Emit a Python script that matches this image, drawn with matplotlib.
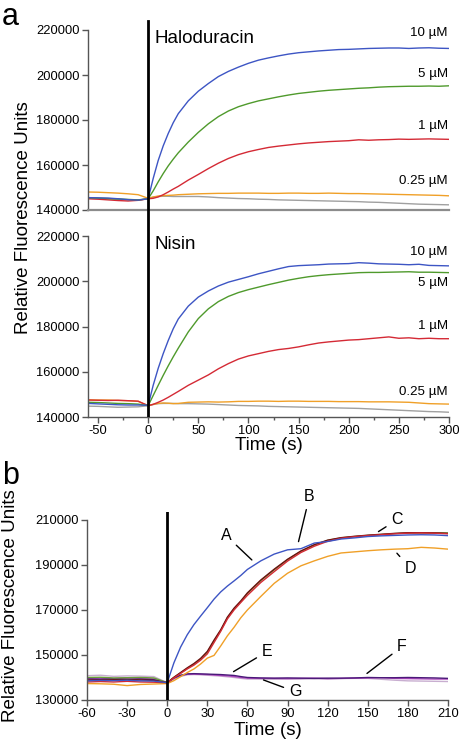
import matplotlib
matplotlib.use("Agg")
import matplotlib.pyplot as plt
from matplotlib.ticker import MultipleLocator, FixedLocator

plt.rcParams['font.family'] = ['Liberation Sans', 'DejaVu Sans']
plt.rcParams['axes.unicode_minus'] = False

# ---------------- Panel a data ----------------
t_a = [-60, -50, -40, -30, -20, -10, 0, 5, 10, 15, 20, 25, 30,
       40, 50, 60, 70, 80, 90, 100, 110, 120, 130, 140, 150, 160, 170, 180,
       190, 200, 210, 220, 230, 240, 250, 260, 270, 280, 290, 300]

halo_10 = [145500, 145400, 145300, 145000, 144600, 144400, 145000, 154000, 162000, 168500, 174000, 178800, 182800,
           188500, 192800, 196200, 199300, 201600, 203500, 205200, 206600, 207600, 208500, 209300, 209900, 210300, 210700, 211000,
           211300, 211400, 211600, 211800, 211900, 212000, 212000, 211800, 212000, 212100, 211900, 211800]
halo_5 = [145500, 145300, 145100, 144900, 144700, 144500, 145000, 148500, 152500, 156200, 159600, 162600, 165400,
          170200, 174500, 178300, 181500, 184000, 185900, 187300, 188500, 189400, 190300, 191100, 191800, 192300, 192800, 193200,
          193500, 193800, 194100, 194300, 194600, 194800, 194900, 195000, 195000, 195100, 195000, 195200]
halo_1 = [145000, 144800, 144500, 144200, 144000, 144300, 145000, 145200, 145800, 146800, 148000, 149300, 150500,
          153300, 155800, 158400, 160800, 162900, 164600, 165900, 166900, 167800, 168400, 168900, 169400, 169800, 170100, 170400,
          170600, 170800, 171200, 171000, 171200, 171300, 171500, 171400, 171500, 171600, 171500, 171400]
halo_025 = [148000, 147900, 147700, 147500, 147200, 146800, 145200, 145800, 146200, 146400, 146500, 146600, 146800,
            147000, 147200, 147300, 147400, 147400, 147500, 147500, 147500, 147400, 147400, 147500, 147500, 147400, 147400, 147500,
            147400, 147300, 147300, 147200, 147100, 147000, 146900, 146800, 146700, 146600, 146500, 146300]
halo_ctrl = [145200, 145100, 144900, 144700, 144500, 144400, 145000, 145700, 146000, 146100, 146100, 146000, 146000,
             146000, 146000, 145800, 145500, 145300, 145100, 145000, 144800, 144700, 144500, 144400, 144300, 144200, 144100, 144000,
             143900, 143800, 143700, 143500, 143400, 143200, 143000, 142800, 142600, 142500, 142400, 142300]

nis_10 = [146000, 145800, 145600, 145400, 145300, 145300, 145200, 154000, 161500, 168000, 173800, 179000, 183300,
          189000, 193000, 195700, 197900, 199600, 200800, 202000, 203300, 204400, 205500, 206500, 206900, 207100, 207300, 207600,
          207700, 207800, 208200, 208000, 207700, 207600, 207500, 207300, 207500, 207000, 206900, 206800]
nis_5 = [146500, 146400, 146200, 146000, 145900, 145700, 145000, 149500, 154000, 158400, 162600, 166600, 170400,
         177600, 183500, 187800, 191000, 193300, 195000, 196300, 197400, 198500, 199500, 200500, 201300, 202000, 202500, 202900,
         203200, 203500, 203800, 203900, 203900, 204000, 204100, 204200, 204000, 204000, 203900, 203800]
nis_1 = [147500, 147400, 147300, 147400, 147200, 147000, 145000, 145600, 146500, 147500, 148700, 150000, 151300,
         154000, 156300, 158600, 161300, 163600, 165600, 167000, 168000, 169000, 169800, 170300, 171000, 171900, 172700, 173200,
         173600, 174000, 174200, 174600, 175000, 175400, 174800, 175000, 174600, 174800, 174600, 174600]
nis_025 = [147600, 147500, 147500, 147300, 147200, 146900, 145000, 145600, 146000, 146200, 146100, 145900, 146000,
           146500, 146600, 146700, 146600, 146700, 146900, 146900, 147000, 147000, 146900, 147000, 147000, 146900, 146900, 146900,
           146800, 146800, 146800, 146700, 146700, 146700, 146600, 146500, 146200, 145900, 145800, 145700]
nis_ctrl = [144800, 144700, 144500, 144300, 144400, 144500, 145000, 145500, 145900, 146000, 146000, 146000, 145900,
            145900, 145800, 145700, 145500, 145300, 145100, 145000, 144900, 144700, 144600, 144500, 144400, 144300, 144200, 144100,
            144000, 143900, 143800, 143600, 143400, 143200, 143000, 142800, 142600, 142400, 142300, 142100]

conc_labels = ['10 µM', '5 µM', '1 µM', '0.25 µM']
halo_label_y = [218500, 200300, 177300, 152900]
nis_label_y = [213100, 199400, 180100, 150900]

# ---------------- Panel b data ----------------
t_b = [-60, -50, -40, -30, -20, -10, 0, 5, 10, 15, 20, 25, 30, 35, 40, 45, 50, 55, 60,
       70, 80, 90, 100, 110, 120, 130, 140, 150, 160, 170, 180, 190, 200, 210]

b_A = [138500, 138700, 138600, 138800, 138500, 138400, 137700, 146500, 153500, 159000, 163500, 167300, 171000,
       174800, 178000, 180600, 182900, 185300, 188000, 191800, 194800, 196700, 197200, 199700, 200400, 201500,
       202000, 202600, 202900, 203100, 203300, 203400, 203300, 203000]
b_red = [138000, 138200, 138000, 138300, 138000, 137900, 137700, 139800, 141800, 143800, 145500, 147700, 150500,
         155500, 160500, 166000, 170000, 173300, 176500, 182200, 187000, 191700, 195500, 198300, 200500, 201800,
         202500, 203000, 203400, 203800, 204100, 204200, 204100, 203800]
b_green = [140000, 140100, 139800, 139900, 140000, 139800, 137700, 140000, 142000, 144000, 145900, 148200, 151200,
           156200, 160800, 166500, 170500, 173600, 177300, 183000, 187800, 192300, 196000, 198800, 200900, 202000,
           202600, 203100, 203500, 203900, 204200, 204300, 204300, 204200]
b_darkred = [138800, 138900, 139000, 139100, 138900, 138700, 137700, 140100, 142200, 144300, 146200, 148500, 151600,
             156600, 161200, 166800, 170800, 174000, 177600, 183300, 188100, 192500, 196200, 199000, 201000, 202100,
             202700, 203200, 203600, 204000, 204300, 204300, 204200, 204000]
b_D = [137300, 137200, 137000, 136400, 136900, 137100, 137300, 138600, 140400, 142200, 143800, 146000, 148600,
       149800, 154000, 158500, 162300, 166500, 170000, 176000, 181800, 186300, 189600, 191800, 193800, 195300,
       195800, 196300, 196700, 197000, 197200, 197800, 197500, 197000]
b_E = [139300, 139200, 139400, 139200, 139300, 139000, 137700, 139800, 141000, 141600, 141700, 141600, 141500,
       141400, 141300, 141100, 140900, 140400, 140000, 139800, 139700, 139800, 139700, 139600, 139700, 139700,
       139800, 140000, 139900, 139900, 140000, 139900, 139800, 139600]
b_F = [139600, 139700, 139500, 139800, 139600, 139400, 137700, 139600, 140800, 141400, 141500, 141400, 141300,
       141100, 140900, 140700, 140400, 140000, 139700, 139600, 139600, 139500, 139600, 139700, 139500, 139600,
       139700, 139800, 139900, 139600, 139500, 139400, 139300, 139300]
b_G = [140800, 141000, 140500, 140700, 140600, 140400, 137700, 139300, 140500, 141200, 141300, 141200, 141000,
       140800, 140600, 140300, 140000, 139600, 139300, 139300, 139200, 139300, 139300, 139400, 139300, 139500,
       139600, 139600, 139200, 138800, 138500, 138400, 138300, 138200]

BLUE = '#3d55c4'
GREEN = '#4f9a2c'
RED = '#d42a35'
ORANGE = '#f0a028'
GRAY = '#a0a0a0'
SPINE = '#555555'
LW = 1.0
TICKFS = 9.3

fig = plt.figure(figsize=(4.6, 7.48), dpi=100)
W, H = 460.0, 748.0

def style_axis(ax):
    for s in ['top', 'right']:
        ax.spines[s].set_visible(False)
    for s in ['left', 'bottom']:
        ax.spines[s].set_color(SPINE)
        ax.spines[s].set_linewidth(1.0)
    ax.tick_params(direction='out', length=4, width=1, color=SPINE, labelsize=TICKFS, pad=2)
    ax.tick_params(which='minor', direction='out', length=2, width=1, color=SPINE)

ax1 = fig.add_axes([88 / W, 1 - 210 / H, 361 / W, 180 / H])
ax2 = fig.add_axes([88 / W, 1 - 417 / H, 361 / W, 181 / H])
ax3 = fig.add_axes([87 / W, 1 - 700 / H, 361 / W, 188 / H])

for ax, series, ly, name in [
        (ax1, [halo_ctrl, halo_025, halo_1, halo_5, halo_10], halo_label_y, 'Haloduracin'),
        (ax2, [nis_ctrl, nis_025, nis_1, nis_5, nis_10], nis_label_y, 'Nisin')]:
    style_axis(ax)
    for vals, col in zip(series, [GRAY, ORANGE, RED, GREEN, BLUE]):
        ax.plot(t_a, vals, color=col, lw=LW)
    ax.set_xlim(-60, 300)
    ax.set_ylim(140000, 220000)
    ax.yaxis.set_major_locator(MultipleLocator(20000))
    for lab, yy in zip(conc_labels, ly):
        ax.text(299, yy, lab, ha='right', va='center', fontsize=9.6)
    ax.text(0.183, 0.952, name, transform=ax.transAxes, ha='left', va='center', fontsize=13.5)

ax1.axvline(0, color='black', lw=2.0, ymin=-26 / 180, ymax=1 + 9 / 180, clip_on=False, zorder=5)
ax1.spines['bottom'].set_color('#8c8c8c')
ax1.spines['bottom'].set_linewidth(1.6)
ax1.tick_params(axis='x', which='both', bottom=False, labelbottom=False)

ax2.axvline(0, color='black', lw=2.0, zorder=5)
ax2.xaxis.set_major_locator(MultipleLocator(50))
ax2.xaxis.set_minor_locator(MultipleLocator(25))
ax2.set_xlabel('Time (s)', fontsize=13.5, labelpad=0)

fig.text(24 / W, 1 - 218 / H, 'Relative Fluorescence Units', rotation=90,
         ha='center', va='center', fontsize=13.5)
fig.text(2 / W, 1 - 25 / H, 'a', fontsize=22, ha='left', va='baseline')

# ---- panel b
style_axis(ax3)
b_series = [(b_G, '#c8aed0'), (b_F, '#b048c0'), (b_E, '#4a1a78'), (b_D, ORANGE),
            (b_green, '#6aa03a'), (b_darkred, '#6b1010'), (b_red, RED), (b_A, BLUE)]
for vals, col in b_series:
    ax3.plot(t_b, vals, color=col, lw=LW)
ax3.set_xlim(-60, 210)
ax3.set_ylim(130000, 213500)
ax3.spines['left'].set_bounds(130000, 210000)
ax3.xaxis.set_major_locator(MultipleLocator(30))
ax3.yaxis.set_major_locator(FixedLocator([130000, 150000, 170000, 190000, 210000]))
ax3.axvline(0, color='black', lw=2.0, zorder=5)
ax3.set_xlabel('Time (s)', fontsize=13.5, labelpad=1)
fig.text(11 / W, 1 - 606 / H, 'Relative Fluorescence Units', rotation=90,
         ha='center', va='center', fontsize=13.5)
fig.text(2 / W, 1 - 484 / H, 'b', fontsize=22, ha='left', va='baseline')

annots = [('A', (63.3, 192200), (44.1, 203000)),
          ('B', (98.2, 200350), (106.4, 220350)),
          ('C', (158.0, 204800), (171.8, 210000)),
          ('D', (171.8, 195200), (181.7, 188500)),
          ('E', (49.6, 142600), (74.6, 151500)),
          ('F', (149.4, 141800), (175.5, 153700)),
          ('G', (72.0, 138900), (95.7, 133700))]
for lab, xy, xyt in annots:
    ax3.annotate(lab, xy=xy, xytext=xyt, ha='center', va='center', fontsize=11.5,
                 annotation_clip=False,
                 arrowprops=dict(arrowstyle='-', color='black', lw=1.0, shrinkA=2, shrinkB=0))

fig.savefig('out.png', dpi=100)
